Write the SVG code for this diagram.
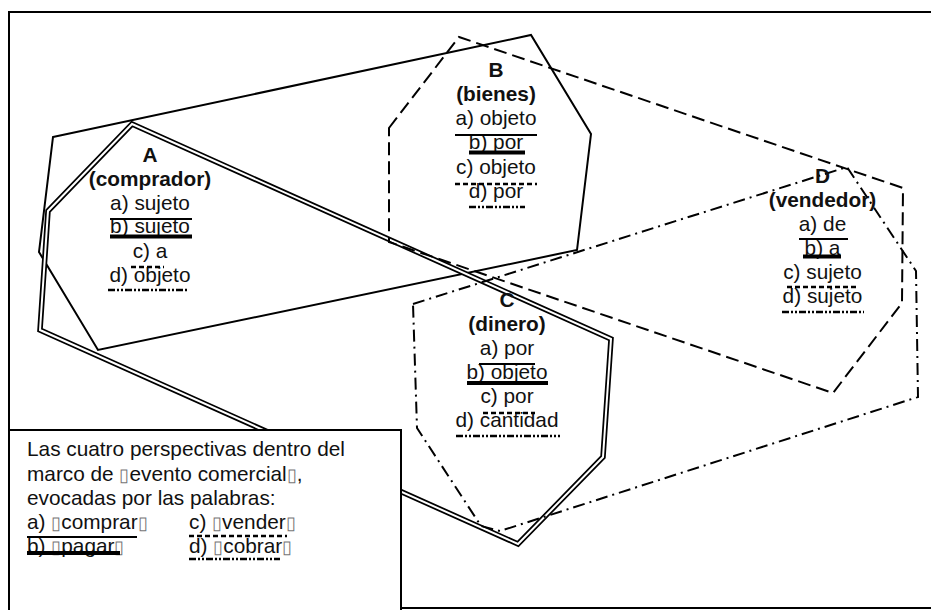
<svg xmlns="http://www.w3.org/2000/svg" width="931" height="610" viewBox="0 0 931 610">
<style>
text{font-family:"Liberation Sans",Arial,sans-serif;font-size:20.8px;fill:#111}
.b{font-weight:bold}
.m{text-anchor:middle}
.poly{fill:none;stroke:#000;stroke-width:2;stroke-linejoin:miter}
.dash{stroke-dasharray:13 6}
.dd{stroke-dasharray:12 5 2 5}
.ul{stroke:#000;fill:none}
.u1{stroke-width:2.2}
.u2{stroke-width:4}
.u3{stroke-width:2.5;stroke-dasharray:5 3}
.u4{stroke-width:2.5;stroke-dasharray:7 2 2 2 2 2}
.box{font-size:18px;fill:#777}
</style>
<rect x="9" y="12" width="930" height="596" fill="#fff" stroke="#000" stroke-width="2"/>
<g id="connectors">
<polygon id="solid" class="poly" points="53,137 531,35 591,134 577,250 98,350 39,252"/>
<polygon id="double-outer" class="poly" style="stroke-width:5.5" points="132,124 611,339 603,457 518,544 40,330 48,211"/>
<polygon id="double-inner" class="poly" style="stroke:#fff;stroke-width:2" points="132,124 611,339 603,457 518,544 40,330 48,211"/>
<polygon id="dashed" class="poly dash" points="389,128 459,37 903,188 902,303 833,393 389,242"/>
<polygon id="dashdot" class="poly dd" points="413,304 847,167 916,271 918,397 500,531 481,526 417,428"/>
</g>
<g id="nodeA">
<text class="b m" x="150" y="162">A</text>
<text class="b m" x="150" y="186">(comprador)</text>
<text class="m" x="150" y="210">a) sujeto</text>
<text class="m" x="150" y="233">b) sujeto</text>
<text class="m" x="150" y="258">c) a</text>
<text class="m" x="150" y="282">d) objeto</text>
<line class="ul u1" x1="110" y1="219" x2="192" y2="219"/>
<line class="ul u2" x1="110" y1="236.5" x2="192" y2="236.5"/>
<line class="ul u3" x1="131" y1="267" x2="164" y2="267"/>
<line class="ul u4" x1="108" y1="290" x2="189" y2="290"/>
</g>
<g id="nodeB">
<text class="b m" x="496" y="77">B</text>
<text class="b m" x="496" y="101">(bienes)</text>
<text class="m" x="496" y="125">a) objeto</text>
<text class="m" x="496" y="149">b) por</text>
<text class="m" x="496" y="174">c) objeto</text>
<text class="m" x="496" y="198">d) por</text>
<line class="ul u1" x1="455" y1="135" x2="537" y2="135"/>
<line class="ul u2" x1="469" y1="152.5" x2="525" y2="152.5"/>
<line class="ul u3" x1="455" y1="184" x2="537" y2="184"/>
<line class="ul u4" x1="469" y1="207" x2="525" y2="207"/>
</g>
<g id="nodeC">
<text class="b m" x="507" y="307">C</text>
<text class="b m" x="507" y="331">(dinero)</text>
<text class="m" x="507" y="355">a) por</text>
<text class="m" x="507" y="379">b) objeto</text>
<text class="m" x="507" y="403">c) por</text>
<text class="m" x="507" y="427">d) cantidad</text>
<line class="ul u1" x1="479" y1="364" x2="535" y2="364"/>
<line class="ul u2" x1="467" y1="383" x2="548" y2="383"/>
<line class="ul u3" x1="483" y1="413" x2="535" y2="413"/>
<line class="ul u4" x1="456" y1="436" x2="560" y2="436"/>
</g>
<g id="nodeD">
<text class="b m" x="822.5" y="183">D</text>
<text class="b m" x="822.5" y="207">(vendedor)</text>
<text class="m" x="822.5" y="231">a) de</text>
<text class="m" x="822.5" y="255">b) a</text>
<text class="m" x="822.5" y="279">c) sujeto</text>
<text class="m" x="822.5" y="303">d) sujeto</text>
<line class="ul u1" x1="799" y1="239" x2="848" y2="239"/>
<line class="ul u2" x1="803" y1="256.5" x2="841" y2="256.5"/>
<line class="ul u3" x1="787" y1="287" x2="857" y2="287"/>
<line class="ul u4" x1="782" y1="312" x2="864" y2="312"/>
</g>
<g id="legend">
<rect x="9" y="430" width="392" height="190" fill="#fff" stroke="#000" stroke-width="2"/>
<text x="27" y="456">Las cuatro perspectivas dentro del</text>
<text x="27" y="481">marco de <tspan class="box">▯</tspan>evento comercial<tspan class="box">▯</tspan>,</text>
<text x="27" y="505">evocadas por las palabras:</text>
<text x="27" y="529">a) <tspan class="box">▯</tspan>comprar<tspan class="box">▯</tspan></text>
<text x="189" y="529">c) <tspan class="box">▯</tspan>vender<tspan class="box">▯</tspan></text>
<text x="27" y="553">b) <tspan class="box">▯</tspan>pagar<tspan class="box">▯</tspan></text>
<text x="189" y="553">d) <tspan class="box">▯</tspan>cobrar<tspan class="box">▯</tspan></text>
<line class="ul u1" x1="27" y1="537" x2="137" y2="537"/>
<line class="ul u2" x1="27" y1="553" x2="120" y2="553"/>
<line class="ul u3" x1="189" y1="536" x2="287" y2="536"/>
<line class="ul u4" x1="189" y1="559" x2="280" y2="559"/>
</g>
</svg>
